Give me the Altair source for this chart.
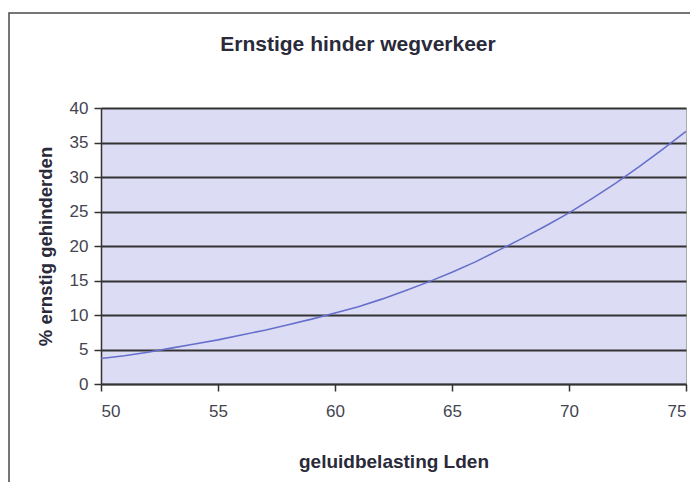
import altair as alt
import pandas as pd

lden = list(range(50, 76))
pct = [3.7, 4.1, 4.6, 5.2, 5.8, 6.4, 7.1, 7.8, 8.6, 9.4, 10.3, 11.2, 12.3, 13.5,
       14.8, 16.2, 17.7, 19.4, 21.1, 22.9, 24.8, 26.9, 29.1, 31.5, 34.0, 36.6]
title_text = "Ernstige hinder wegverkeer"

df = pd.DataFrame({"Lden": lden, "pct": pct})

FONT = "Liberation Sans"

border = alt.Chart(pd.DataFrame({"a": [0]})).mark_rect(
    fill=None, stroke="#4a4a4a", strokeWidth=1.5, clip=False
).encode(
    x=alt.value(-92), x2=alt.value(700), y=alt.value(-95), y2=alt.value(500)
)

title = alt.Chart(pd.DataFrame({"t": [title_text]})).mark_text(
    font=FONT, fontSize=21, fontWeight="bold", color="#2a2a3a",
    align="center", baseline="alphabetic", clip=False
).encode(
    text="t:N", x=alt.value(257), y=alt.value(-57)
)

line = alt.Chart(df).mark_line(color="#6670cc", strokeWidth=1.6).encode(
    x=alt.X("Lden:Q", scale=alt.Scale(domain=[50, 75], nice=False),
            axis=alt.Axis(title="geluidbelasting Lden", values=[50, 55, 60, 65, 70, 75],
                          grid=False, tickSize=7, labelPadding=12, titlePadding=33,
                          titleFontSize=19)),
    y=alt.Y("pct:Q", scale=alt.Scale(domain=[0, 40], nice=False),
            axis=alt.Axis(title="% ernstig gehinderden", values=list(range(0, 45, 5)),
                          grid=True, tickSize=7, labelPadding=6, titlePadding=14,
                          titleFontSize=18.5)),
)

chart = alt.layer(border, line, title).properties(
    width=585, height=276,
    padding={"left": 93, "top": 100, "right": 4, "bottom": 98},
    autosize=alt.AutoSizeParams(type="none"),
).configure_view(
    fill="#dcdcf4", stroke="#aaaaaa", strokeWidth=1
).configure_axis(
    labelFont=FONT, titleFont=FONT, labelFontSize=17,
    labelColor="#444450", titleColor="#2a2a3a", titleFontWeight="bold",
    domainColor="#333333", domainWidth=1.5, tickColor="#333333", tickWidth=1.5,
    gridColor="#333333", gridWidth=2,
)

chart.save("out.html", embed_options={"renderer": "svg", "actions": False})
